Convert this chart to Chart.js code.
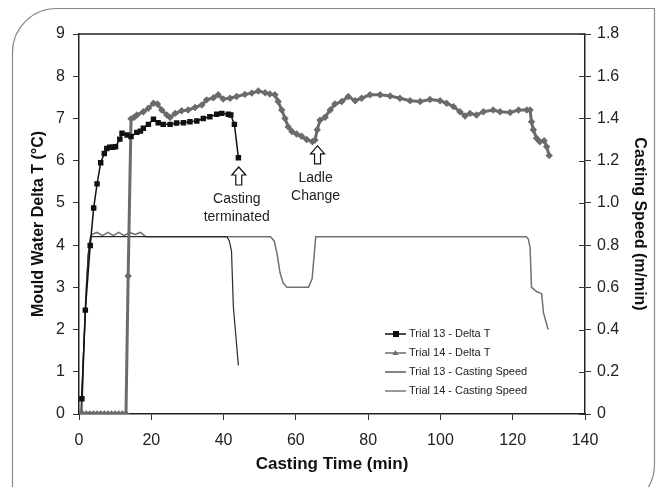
<!DOCTYPE html>
<html>
<head>
<meta charset="utf-8">
<script src="https://cdn.jsdelivr.net/npm/chart.js@4.4.1/dist/chart.umd.min.js"></script>
<style>
  html, body { margin: 0; padding: 0; background: #ffffff; }
  #wrap { width: 660px; height: 487px; position: relative; }
</style>
</head>
<body>
<div id="wrap"><canvas id="c" width="660" height="487"></canvas></div>
<script>
// ---- Data ----
const t13Time  = [0.8, 1.75, 3.1, 4.06, 5.0, 6.0, 7.0, 7.7, 8.5, 9.3, 10.1, 11.3, 11.9, 13.3, 14.4, 16.0, 17.0, 17.8, 19.2, 20.6, 21.9, 23.3, 25.2, 27.0, 28.9, 30.7, 32.6, 34.4, 36.2, 38.1, 39.5, 41.3, 42.0, 43.0, 44.1];
const t13Delta = [0.36, 2.46, 3.99, 4.88, 5.45, 5.95, 6.17, 6.29, 6.32, 6.32, 6.33, 6.51, 6.65, 6.61, 6.57, 6.67, 6.70, 6.77, 6.86, 6.98, 6.90, 6.86, 6.86, 6.89, 6.90, 6.92, 6.94, 7.00, 7.04, 7.10, 7.12, 7.10, 7.08, 6.86, 6.07];

const t14Time  = [0, 1, 2, 3, 4, 5, 6, 7, 8, 9, 10, 11, 12, 13, 13.6, 14.4, 15.3, 16.0, 17.8, 19.2, 20.6, 21.7, 22.9, 24.3, 25.2, 26.6, 28.4, 30.2, 32.1, 34.0, 35.3, 37.2, 38.5, 39.9, 41.8, 43.6, 45.9, 47.8, 49.6, 51.5, 52.8, 54.2, 55.1, 56.1, 57.0, 57.9, 58.9, 60.2, 61.6, 63.0, 64.6, 65.3, 65.9, 66.7, 68.1, 69.5, 70.8, 72.7, 74.5, 76.4, 78.2, 80.5, 83.3, 86.1, 88.8, 91.6, 94.4, 97.1, 99.9, 101.7, 103.6, 105.4, 106.8, 108.2, 110.0, 111.9, 114.6, 116.5, 119.3, 121.6, 123.9, 124.8, 125.2, 125.7, 126.6, 127.5, 128.7, 129.4, 130.1];
const t14Delta = [0, 0, 0, 0, 0, 0, 0, 0, 0, 0, 0, 0, 0, 0, 3.27, 6.99, 7.03, 7.08, 7.16, 7.24, 7.36, 7.34, 7.20, 7.08, 7.02, 7.12, 7.18, 7.20, 7.26, 7.32, 7.44, 7.49, 7.56, 7.46, 7.48, 7.52, 7.57, 7.60, 7.65, 7.61, 7.58, 7.56, 7.40, 7.20, 7.00, 6.80, 6.69, 6.63, 6.58, 6.50, 6.45, 6.49, 6.73, 6.96, 7.03, 7.20, 7.34, 7.40, 7.52, 7.42, 7.48, 7.56, 7.56, 7.53, 7.48, 7.42, 7.40, 7.45, 7.42, 7.36, 7.28, 7.16, 7.06, 7.12, 7.08, 7.16, 7.20, 7.16, 7.14, 7.20, 7.20, 7.20, 6.92, 6.73, 6.53, 6.45, 6.47, 6.33, 6.12];

const s13Time  = [0.5, 1.0, 1.8, 2.5, 3.2, 40.9, 41.6, 42.2, 42.7, 44.1];
const s13Speed = [0, 0.20, 0.50, 0.75, 0.84, 0.84, 0.82, 0.77, 0.51, 0.23];

const s14Time  = [0.8, 1.3, 2.0, 2.8, 3.5, 5.0, 6.5, 8.0, 9.5, 11.0, 12.5, 14.0, 15.5, 17.0, 18.5, 53.0, 54.0, 54.8, 55.6, 56.5, 57.5, 63.5, 64.5, 65.5, 123.7, 124.3, 124.8, 125.2, 126.6, 128.0, 128.5, 129.8];
const s14Speed = [0, 0.30, 0.60, 0.80, 0.85, 0.86, 0.845, 0.86, 0.845, 0.86, 0.845, 0.86, 0.85, 0.86, 0.84, 0.84, 0.82, 0.76, 0.67, 0.62, 0.60, 0.60, 0.64, 0.84, 0.84, 0.83, 0.79, 0.60, 0.58, 0.57, 0.48, 0.40];

const seriesNames = ['Trial 13 - Delta T', 'Trial 14 - Delta T', 'Trial 13 - Casting Speed', 'Trial 14 - Casting Speed'];
const xTitle = 'Casting Time (min)';
const yTitle = 'Mould Water Delta T (°C)';
const y2Title = 'Casting Speed (m/min)';
const notes = [
  { x: 44.2, y: 5.85, lines: ['Casting', 'terminated'] },
  { x: 66.0, y: 6.35, lines: ['Ladle', 'Change'] }
];

const pts = (xs, ys) => xs.map((x, i) => ({ x: x, y: ys[i] }));
const FONT = '"Liberation Sans", Arial, sans-serif';

const frame = {
  id: 'frame',
  beforeDraw(chart) {
    const c = chart.ctx;
    c.save();
    c.strokeStyle = '#8a8a8a';
    c.lineWidth = 1.2;
    c.beginPath();
    c.roundRect(12.5, 8.5, 642, 500, [44, 0, 44, 0]);
    c.stroke();
    c.restore();
  },
  afterDraw(chart) {
    const c = chart.ctx;
    const a = chart.chartArea;
    c.save();
    // top border of plot area
    c.strokeStyle = '#222';
    c.lineWidth = 1.5;
    c.beginPath();
    c.moveTo(a.left, a.top);
    c.lineTo(a.right, a.top);
    c.stroke();
    // inner half of right-axis ticks
    const y2 = chart.scales.y2;
    c.lineWidth = 1;
    c.strokeStyle = '#333';
    y2.ticks.forEach(t => {
      const py = Math.round(y2.getPixelForValue(t.value)) + 0.5;
      c.beginPath();
      c.moveTo(a.right - 6, py);
      c.lineTo(a.right, py);
      c.stroke();
    });
    // annotations: hollow arrows + text
    const xs = chart.scales.x, ys = chart.scales.y;
    notes.forEach(n => {
      const cx = xs.getPixelForValue(n.x);
      const tip = ys.getPixelForValue(n.y);
      const hw = 7, sw = 3, hh = 8, len = 18;
      c.beginPath();
      c.moveTo(cx, tip);
      c.lineTo(cx + hw, tip + hh);
      c.lineTo(cx + sw, tip + hh);
      c.lineTo(cx + sw, tip + len);
      c.lineTo(cx - sw, tip + len);
      c.lineTo(cx - sw, tip + hh);
      c.lineTo(cx - hw, tip + hh);
      c.closePath();
      c.fillStyle = '#fff';
      c.fill();
      c.strokeStyle = '#111';
      c.lineWidth = 1.2;
      c.stroke();
      c.fillStyle = '#222';
      c.font = '14px "Liberation Sans Narrow", ' + FONT;
      c.textAlign = 'center';
      c.textBaseline = 'middle';
      n.lines.forEach((l, i) => c.fillText(l, cx - 2, tip + len + 14 + i * 18));
    });
    // legend inside the plot area
    const lx = 385, ly = 334, gap = 19;
    c.font = '11px ' + FONT;
    c.textAlign = 'left';
    c.textBaseline = 'middle';
    const legendColors = ['#111111', '#6b6b6b', '#333333', '#555555'];
    chart.data.datasets.forEach((d, i) => {
      const yy = ly + i * gap;
      c.strokeStyle = legendColors[i];
      c.lineWidth = i < 2 ? 1.5 : 1.2;
      c.beginPath();
      c.moveTo(lx, yy);
      c.lineTo(lx + 21, yy);
      c.stroke();
      if (i === 0) {
        c.fillStyle = legendColors[i];
        c.fillRect(lx + 8, yy - 3, 6, 6);
      } else if (i === 1) {
        c.fillStyle = legendColors[i];
        c.beginPath();
        c.moveTo(lx + 10.5, yy - 3);
        c.lineTo(lx + 13.5, yy + 2);
        c.lineTo(lx + 7.5, yy + 2);
        c.closePath();
        c.fill();
      }
      c.fillStyle = '#222';
      c.fillText(d.label, lx + 24, yy);
    });
    c.restore();
  }
};

new Chart(document.getElementById('c'), {
  type: 'line',
  data: {
    datasets: [
      { label: seriesNames[0], data: pts(t13Time, t13Delta), yAxisID: 'y', borderColor: '#111111', backgroundColor: '#111111', borderWidth: 1.5, pointStyle: 'rect', pointRadius: 2.8, pointHoverRadius: 2.8, tension: 0 },
      { label: seriesNames[1], data: pts(t14Time, t14Delta), yAxisID: 'y', borderColor: '#6b6b6b', backgroundColor: '#6b6b6b', borderWidth: 3, pointStyle: 'rectRot', pointRadius: 1.6, pointHoverRadius: 1.6, tension: 0 },
      { label: seriesNames[2], data: pts(s13Time, s13Speed), yAxisID: 'y2', borderColor: '#2a2a2a', backgroundColor: '#2a2a2a', borderWidth: 1.2, pointRadius: 0, tension: 0 },
      { label: seriesNames[3], data: pts(s14Time, s14Speed), yAxisID: 'y2', borderColor: '#707070', backgroundColor: '#707070', borderWidth: 1.5, pointRadius: 0, tension: 0 }
    ]
  },
  options: {
    responsive: false,
    animation: false,
    layout: { padding: { top: 34, left: 0, right: 0, bottom: 0 } },
    plugins: { legend: { display: false }, tooltip: { enabled: false } },
    scales: {
      x: {
        type: 'linear', min: 0, max: 140,
        ticks: { stepSize: 20, color: '#222', font: { family: FONT, size: 16 }, padding: 11, maxRotation: 0 },
        grid: { drawOnChartArea: false, tickLength: 6, color: '#333' },
        border: { color: '#222', width: 1.5 },
        title: { display: true, text: xTitle, color: '#111', font: { family: FONT, size: 17, weight: 'bold' }, padding: { top: 0, bottom: 12 } },
        afterFit(s) { s.height = 73; }
      },
      y: {
        type: 'linear', position: 'left', min: 0, max: 9,
        ticks: { stepSize: 1, color: '#222', font: { family: FONT, size: 16 }, padding: 8 },
        grid: { drawOnChartArea: false, tickLength: 6, color: '#333' },
        border: { color: '#222', width: 1.5 },
        title: { display: true, text: yTitle, color: '#111', font: { family: FONT, size: 16, weight: 'bold' }, padding: { top: 29, bottom: 0 } },
        afterFit(s) { s.width = 79; }
      },
      y2: {
        type: 'linear', position: 'right', min: 0, max: 1.8,
        ticks: { stepSize: 0.2, color: '#222', font: { family: FONT, size: 16 }, padding: 6 },
        grid: { drawOnChartArea: false, tickLength: 6, color: '#333' },
        border: { color: '#222', width: 1.5 },
        title: { display: true, text: y2Title, color: '#111', font: { family: FONT, size: 16, weight: 'bold' }, padding: { top: 11, bottom: 0 } },
        afterFit(s) { s.width = 75; }
      }
    }
  },
  plugins: [frame]
});
</script>
</body>
</html>
